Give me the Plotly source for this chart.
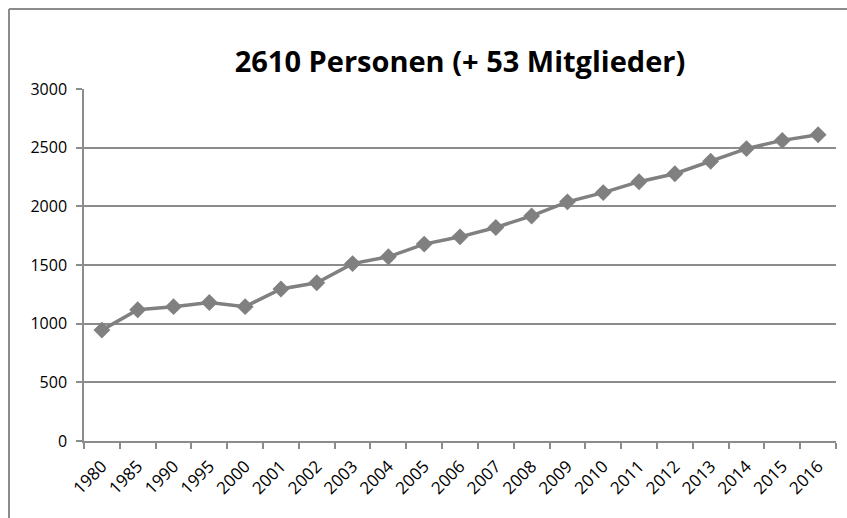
import plotly.graph_objects as go

years = ["1980", "1985", "1990", "1995", "2000", "2001", "2002", "2003", "2004", "2005",
         "2006", "2007", "2008", "2009", "2010", "2011", "2012", "2013", "2014", "2015", "2016"]
persons = [945, 1118, 1145, 1180, 1145, 1295, 1349, 1512, 1570, 1678,
           1740, 1820, 1918, 2038, 2117, 2210, 2278, 2384, 2492, 2562, 2610]
y_ticks = [0, 500, 1000, 1500, 2000, 2500, 3000]
title_text = "2610 Personen (+ 53 Mitglieder)"

W, H = 847, 518
L, R, T, B = 84, 11, 89, 77
pw, ph = W - L - R, H - T - B

fig = go.Figure()
fig.add_trace(go.Scatter(
    x=years, y=persons, mode="lines+markers",
    line=dict(color="#808080", width=3.5),
    marker=dict(symbol="diamond", size=13, color="#808080"),
    showlegend=False, hoverinfo="x+y",
))

def px_x(p):
    return (p - L) / pw

def px_y(p):
    return (H - B - p) / ph

border = dict(color="#8c8c8c", width=2)

fig.update_layout(
    width=W, height=H,
    margin=dict(l=L, r=R, t=T, b=B, autoexpand=False),
    paper_bgcolor="white", plot_bgcolor="white",
    title=dict(text="<b>" + title_text + "</b>", x=0.5, xref="paper", xanchor="center",
               y=1 - 62 / H, yanchor="middle",
               font=dict(family="Open Sans, sans-serif", size=29, color="black")),
    font=dict(family="Open Sans, sans-serif", size=16, color="black"),
    xaxis=dict(type="category", tickangle=-45, showgrid=False, automargin=False,
               showline=True, linecolor="#8c8c8c", linewidth=1.5,
               ticks="outside", ticklen=6, tickcolor="#8c8c8c", tickwidth=1.5,
               tickson="boundaries", tickfont=dict(size=17), ticklabelstandoff=7,
               range=[-0.5, len(years) - 0.5]),
    yaxis=dict(range=[0, 3000], tickvals=y_ticks, showgrid=True, automargin=False,
               gridcolor="#8c8c8c", gridwidth=1.5,
               showline=True, linecolor="#8c8c8c", linewidth=1.5,
               ticks="outside", ticklen=6, tickcolor="#8c8c8c", tickwidth=1.5,
               zeroline=False, tickfont=dict(size=16), ticklabelstandoff=6),
    shapes=[
        dict(type="line", xref="paper", yref="paper",
             x0=px_x(9), x1=px_x(W + 30), y0=px_y(9), y1=px_y(9), line=border),
        dict(type="line", xref="paper", yref="paper",
             x0=px_x(9), x1=px_x(9), y0=px_y(9), y1=px_y(H + 30), line=border),
    ],
)

fig.write_html(
    "out.html",
    config={"displayModeBar": False},
    post_script="document.body.style.margin='0';document.body.style.overflow='hidden';",
)
